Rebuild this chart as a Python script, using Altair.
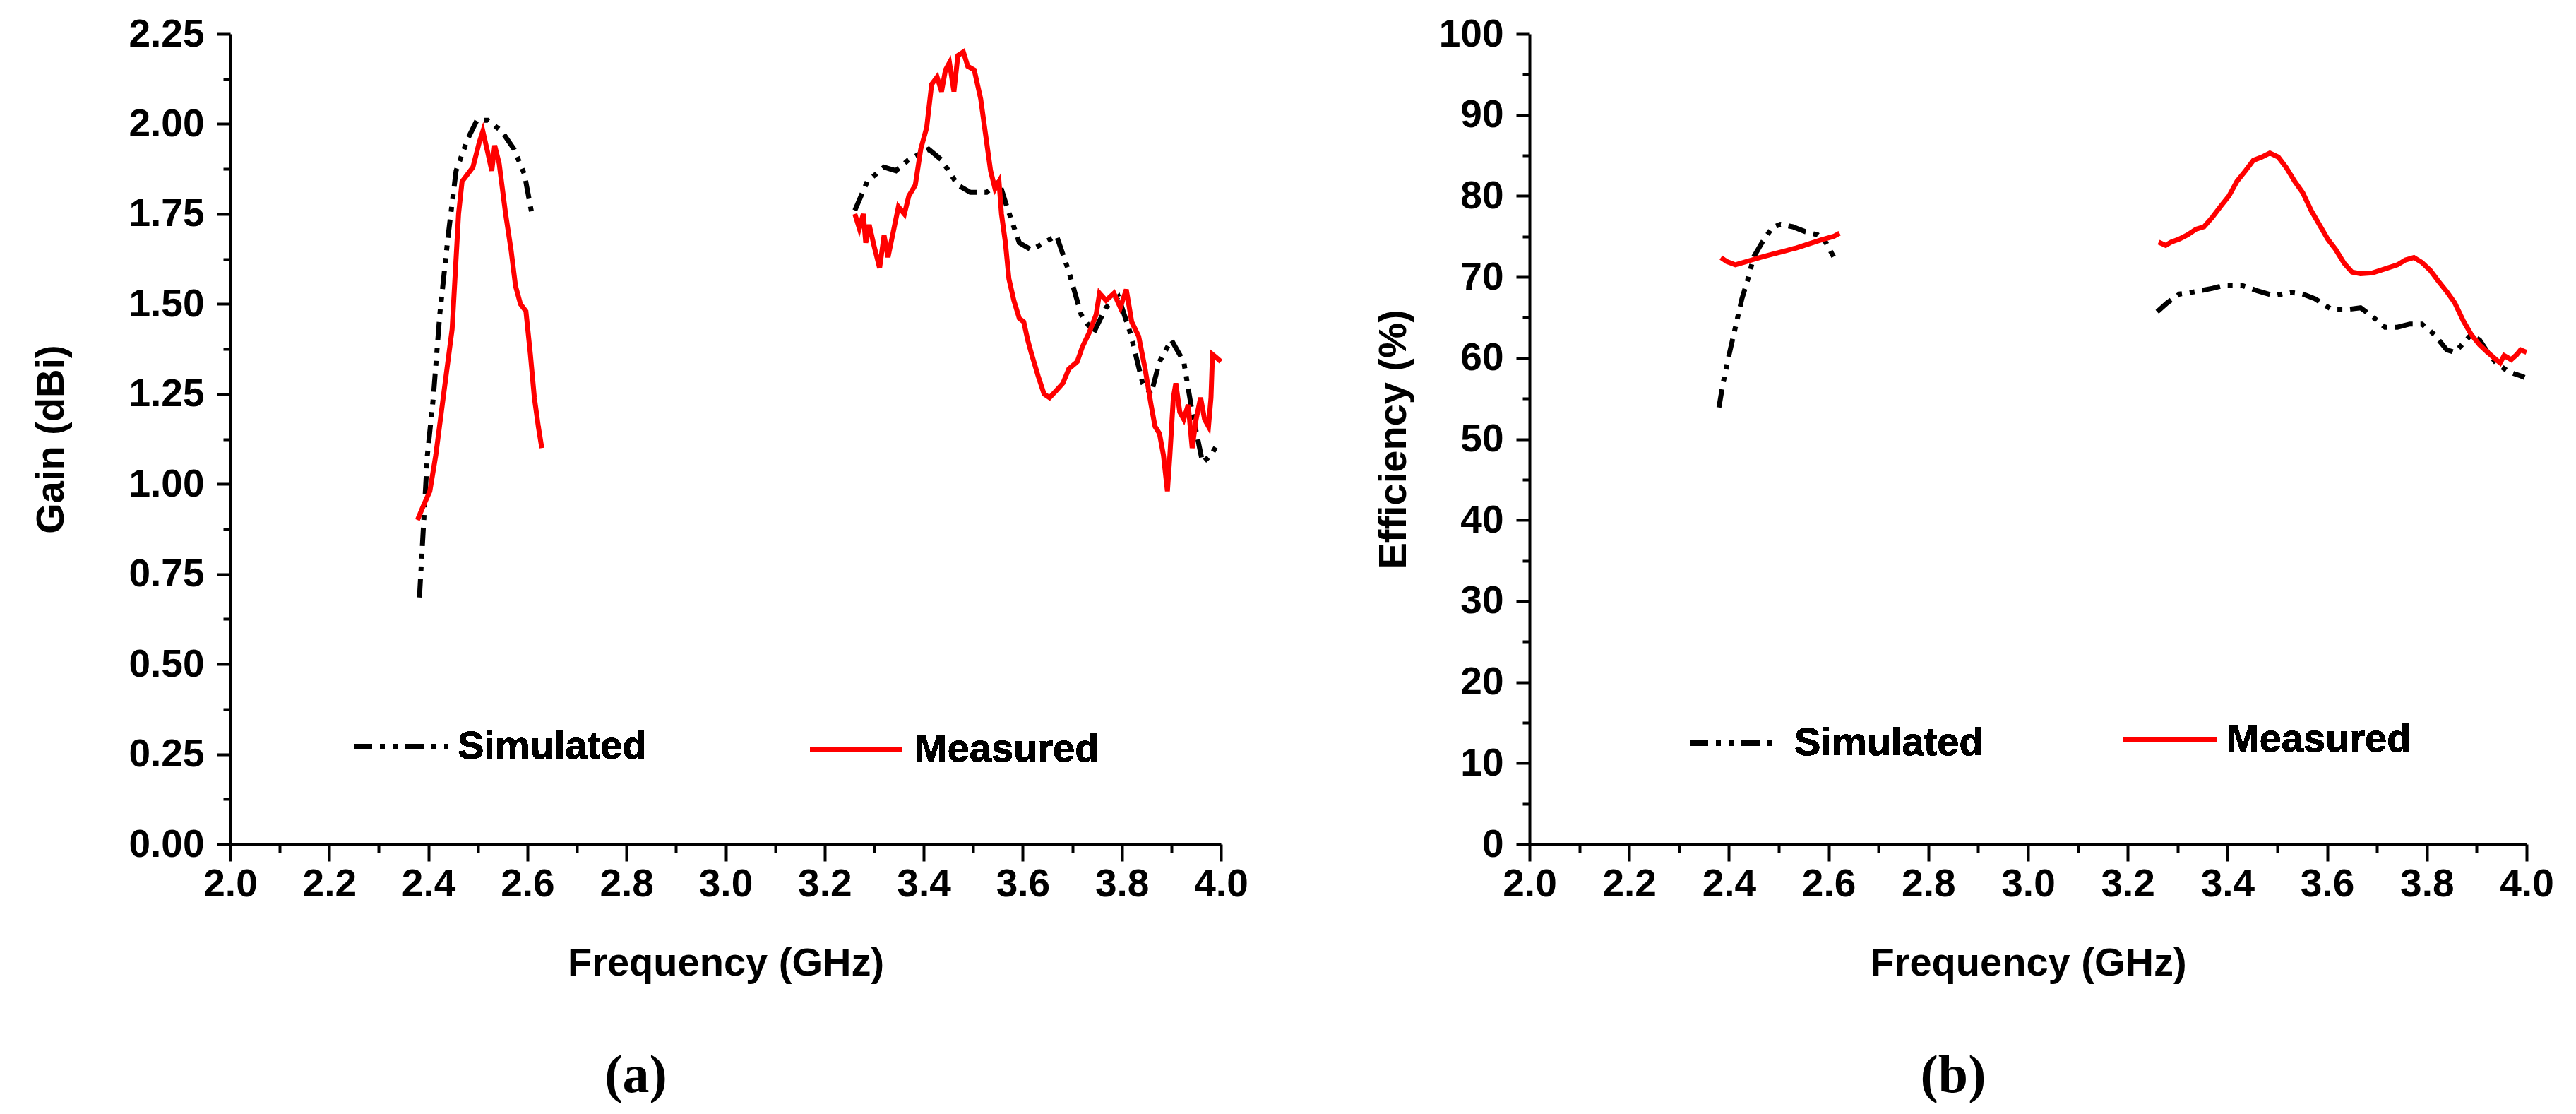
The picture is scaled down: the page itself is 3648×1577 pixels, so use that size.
import altair as alt
import pandas as pd

# ---------------- data ----------------
# (a) Gain, simulated
GAIN_SIM_F1 = [2.382, 2.39, 2.398, 2.41, 2.423, 2.44, 2.456, 2.48, 2.498, 2.52, 2.548, 2.573, 2.594, 2.609]
GAIN_SIM_V1 = [0.685, 0.88, 1.08, 1.24, 1.47, 1.69, 1.87, 1.96, 2.01, 2.01, 1.98, 1.93, 1.86, 1.75]
GAIN_SIM_F2 = [3.261, 3.286, 3.32, 3.344, 3.369, 3.41, 3.436, 3.469, 3.494, 3.527, 3.552, 3.568, 3.593, 3.618,
               3.643, 3.668, 3.693, 3.718, 3.743, 3.768, 3.793, 3.817, 3.842, 3.859, 3.876, 3.90, 3.925, 3.942,
               3.963, 3.98, 3.997]
GAIN_SIM_V2 = [1.76, 1.84, 1.88, 1.87, 1.90, 1.93, 1.90, 1.83, 1.81, 1.81, 1.84, 1.77, 1.67, 1.65,
               1.67, 1.69, 1.59, 1.47, 1.42, 1.49, 1.52, 1.42, 1.28, 1.25, 1.34, 1.40, 1.34, 1.20,
               1.06, 1.08, 1.12]
# (a) Gain, measured
GAIN_MEAS_F1 = [2.378, 2.39, 2.403, 2.415, 2.43, 2.448, 2.461, 2.468, 2.49, 2.503, 2.51, 2.52, 2.528, 2.534,
                2.543, 2.556, 2.567, 2.576, 2.586, 2.597, 2.606, 2.614, 2.622, 2.629]
GAIN_MEAS_V1 = [0.90, 0.94, 0.98, 1.08, 1.24, 1.43, 1.75, 1.84, 1.88, 1.95, 1.98, 1.92, 1.87, 1.94,
                1.89, 1.75, 1.65, 1.55, 1.50, 1.48, 1.36, 1.24, 1.16, 1.10]
GAIN_MEAS_F2 = [3.261, 3.27, 3.278, 3.283, 3.29, 3.30, 3.311, 3.32, 3.328, 3.34, 3.349, 3.361, 3.37, 3.383,
                3.394, 3.406, 3.416, 3.427, 3.436, 3.444, 3.452, 3.461, 3.469, 3.48, 3.489, 3.502, 3.515,
                3.527, 3.535, 3.544, 3.552, 3.557, 3.565, 3.572, 3.582, 3.593, 3.602, 3.61, 3.618, 3.631,
                3.643, 3.654, 3.668, 3.681, 3.693, 3.71, 3.72, 3.734, 3.748, 3.755, 3.768, 3.784, 3.797,
                3.809, 3.82, 3.834, 3.847, 3.859, 3.867, 3.876, 3.884, 3.892, 3.897, 3.904, 3.909, 3.917,
                3.925, 3.934, 3.942, 3.95, 3.959, 3.967, 3.975, 3.98, 3.983, 3.992, 4.0]
GAIN_MEAS_V2 = [1.75, 1.71, 1.75, 1.67, 1.72, 1.66, 1.60, 1.69, 1.63, 1.71, 1.77, 1.75, 1.80, 1.83,
                1.93, 1.99, 2.11, 2.13, 2.09, 2.15, 2.17, 2.09, 2.19, 2.20, 2.16, 2.15, 2.07,
                1.95, 1.87, 1.82, 1.84, 1.75, 1.67, 1.57, 1.51, 1.46, 1.45, 1.40, 1.36, 1.30,
                1.25, 1.24, 1.26, 1.28, 1.32, 1.34, 1.38, 1.42, 1.47, 1.53, 1.51, 1.53, 1.49,
                1.54, 1.45, 1.41, 1.32, 1.22, 1.16, 1.14, 1.08, 0.98, 1.08, 1.24, 1.28, 1.20,
                1.18, 1.22, 1.10, 1.18, 1.24, 1.18, 1.16, 1.24, 1.36, 1.35, 1.34]

# (b) Efficiency, simulated
EFF_SIM_F1 = [2.38, 2.388, 2.40, 2.413, 2.426, 2.437, 2.45, 2.467, 2.487, 2.503, 2.528, 2.553, 2.578, 2.594, 2.61]
EFF_SIM_V1 = [53.9, 56.8, 60.3, 63.8, 67.3, 69.5, 72.5, 74.3, 76.1, 76.5, 76.2, 75.6, 75.2, 74.3, 72.5]
EFF_SIM_F2 = [3.259, 3.279, 3.304, 3.337, 3.37, 3.394, 3.427, 3.46, 3.493, 3.526, 3.551, 3.576, 3.609, 3.642,
              3.667, 3.691, 3.716, 3.741, 3.766, 3.79, 3.815, 3.84, 3.856, 3.873, 3.889, 3.906, 3.922, 3.939,
              3.964, 3.988, 3.996]
EFF_SIM_V2 = [65.7, 66.8, 67.9, 68.2, 68.6, 69.0, 69.0, 68.3, 67.7, 68.1, 67.9, 67.3, 66.0, 66.0,
              66.2, 65.1, 63.8, 63.8, 64.2, 64.2, 62.9, 61.0, 60.7, 61.8, 62.9, 62.2, 60.7, 59.4,
              58.3, 57.8, 57.6]
# (b) Efficiency, measured
EFF_MEAS_F1 = [2.384, 2.396, 2.413, 2.43, 2.446, 2.462, 2.487, 2.512, 2.536, 2.561, 2.586, 2.61, 2.622]
EFF_MEAS_V1 = [72.4, 71.9, 71.5, 71.8, 72.1, 72.4, 72.8, 73.2, 73.6, 74.1, 74.6, 75.0, 75.4]
EFF_MEAS_F2 = [3.262, 3.276, 3.287, 3.304, 3.32, 3.337, 3.353, 3.37, 3.386, 3.403, 3.419, 3.436, 3.452, 3.469,
               3.485, 3.502, 3.518, 3.535, 3.551, 3.568, 3.584, 3.601, 3.617, 3.634, 3.65, 3.667, 3.691,
               3.716, 3.741, 3.757, 3.774, 3.79, 3.807, 3.823, 3.84, 3.856, 3.873, 3.889, 3.906, 3.922,
               3.939, 3.947, 3.955, 3.969, 3.98, 3.988, 4.0]
EFF_MEAS_V2 = [74.3, 73.9, 74.3, 74.7, 75.2, 75.9, 76.2, 77.4, 78.7, 80.0, 81.8, 83.1, 84.4, 84.8,
               85.3, 84.8, 83.5, 81.8, 80.4, 78.2, 76.5, 74.7, 73.4, 71.7, 70.6, 70.4, 70.5,
               71.0, 71.5, 72.1, 72.4, 71.8, 70.8, 69.5, 68.2, 66.8, 64.6, 62.9, 61.6, 60.7,
               59.8, 59.4, 60.3, 59.8, 60.4, 61.0, 60.7]

FREQ_TICKS = [2.0, 2.1, 2.2, 2.3, 2.4, 2.5, 2.6, 2.7, 2.8, 2.9, 3.0, 3.1, 3.2, 3.3, 3.4, 3.5, 3.6, 3.7, 3.8, 3.9, 4.0]
GAIN_TICKS = [0.0, 0.125, 0.25, 0.375, 0.5, 0.625, 0.75, 0.875, 1.0, 1.125, 1.25, 1.375, 1.5, 1.625,
              1.75, 1.875, 2.0, 2.125, 2.25]
EFF_TICKS = [0, 5, 10, 15, 20, 25, 30, 35, 40, 45, 50, 55, 60, 65, 70, 75, 80, 85, 90, 95, 100]
LEGEND_LABELS = ["Simulated", "Measured"]
PANEL_LABELS = ["(a)", "(b)"]


def frame(f1, v1, f2, v2):
    return pd.DataFrame({
        "f": list(f1) + list(f2),
        "v": list(v1) + list(v2),
        "seg": [1] * len(f1) + [2] * len(f2),
    })


SANS = "Liberation Sans"
DASH = [26, 11, 7, 11, 7, 11]
RED = "#ff0000"

AXIS_STYLE = dict(
    grid=False, domainColor="black", domainWidth=4, tickColor="black", tickWidth=4,
    labelFont=SANS, labelFontSize=55, labelFontWeight="bold", labelColor="black",
    titleFont=SANS, titleFontSize=56, titleFontWeight="bold", titleColor="black",
)


def panel(sim, meas, y_title, y_dom, y_ticks, y_minor_test, y_fmt, w, h,
          title_pad, leg, panel_label, panel_dx):
    x = alt.X("f:Q", scale=alt.Scale(domain=[2.0, 4.0], nice=False, zero=False),
              axis=alt.Axis(
                  title="Frequency (GHz)", values=FREQ_TICKS,
                  labelExpr="round(datum.value*10) % 2 === 0 ? format(datum.value, '.1f') : ''",
                  tickSize={"condition": {"test": "round(datum.value*10) % 2 !== 0", "value": 12}, "value": 24},
                  labelPadding=6, titlePadding=57, labelFlush=False, **AXIS_STYLE))
    y = alt.Y("v:Q", scale=alt.Scale(domain=y_dom, nice=False, zero=False),
              axis=alt.Axis(
                  title=y_title, values=y_ticks,
                  labelExpr="(" + y_minor_test + ") ? '' : format(datum.value, '" + y_fmt + "')",
                  tickSize={"condition": {"test": y_minor_test, "value": 10}, "value": 19},
                  labelPadding=18, titlePadding=title_pad, labelFlush=False, **AXIS_STYLE))

    sim_line = alt.Chart(sim).mark_line(color="black", strokeWidth=7, strokeDash=DASH).encode(
        x=x, y=y, detail="seg:N", order="f:Q")
    meas_line = alt.Chart(meas).mark_line(color=RED, strokeWidth=7).encode(
        x="f:Q", y="v:Q", detail="seg:N", order="f:Q")

    (sx1, sx2, sy, stx), (mx1, mx2, my, mtx) = leg
    leg_sim = alt.Chart(sim).mark_rule(color="black", strokeWidth=8, strokeDash=DASH).encode(
        x=alt.value(sx1), x2=alt.value(sx2), y=alt.value(sy))
    leg_meas = alt.Chart(meas).mark_rule(color=RED, strokeWidth=8).encode(
        x=alt.value(mx1), x2=alt.value(mx2), y=alt.value(my))
    txt_sim = alt.Chart(sim).mark_text(font=SANS, fontSize=56, fontWeight="bold", align="left",
                                       baseline="middle", color="black").encode(
        x=alt.value(stx), y=alt.value(sy), text=alt.value(LEGEND_LABELS[0]))
    txt_meas = alt.Chart(meas).mark_text(font=SANS, fontSize=56, fontWeight="bold", align="left",
                                         baseline="middle", color="black").encode(
        x=alt.value(mtx), y=alt.value(my), text=alt.value(LEGEND_LABELS[1]))

    return alt.layer(sim_line, meas_line, leg_sim, leg_meas, txt_sim, txt_meas).properties(
        width=w, height=h,
        title=alt.TitleParams(panel_label, orient="bottom", font="Liberation Serif", fontSize=76,
                              fontWeight="bold", color="black", offset=95, dx=panel_dx, anchor="middle"))


gain_sim = frame(GAIN_SIM_F1, GAIN_SIM_V1, GAIN_SIM_F2, GAIN_SIM_V2)
gain_meas = frame(GAIN_MEAS_F1, GAIN_MEAS_V1, GAIN_MEAS_F2, GAIN_MEAS_V2)
eff_sim = frame(EFF_SIM_F1, EFF_SIM_V1, EFF_SIM_F2, EFF_SIM_V2)
eff_meas = frame(EFF_MEAS_F1, EFF_MEAS_V1, EFF_MEAS_F2, EFF_MEAS_V2)

left = panel(gain_sim, gain_meas, "Gain (dBi)", [0, 2.25], GAIN_TICKS,
             "round(datum.value*8) % 2 !== 0", ".2f", 1403, 1147, 80,
             ((175, 308, 1009, 322), (821, 951, 1013, 969)), PANEL_LABELS[0], -127)
right = panel(eff_sim, eff_meas, "Efficiency (%)", [0, 100], EFF_TICKS,
              "datum.value % 10 !== 0", "d", 1412, 1147, 35,
              ((227, 355, 1004, 375), (841, 973, 999, 987)), PANEL_LABELS[1], -106)

chart = alt.hconcat(left, right, spacing=177).properties(
    padding={"left": 36, "top": 13, "right": 0, "bottom": 0},
    background="white",
).configure_view(stroke=None)

chart.save("out.html", embed_options={"renderer": "svg", "actions": False})
